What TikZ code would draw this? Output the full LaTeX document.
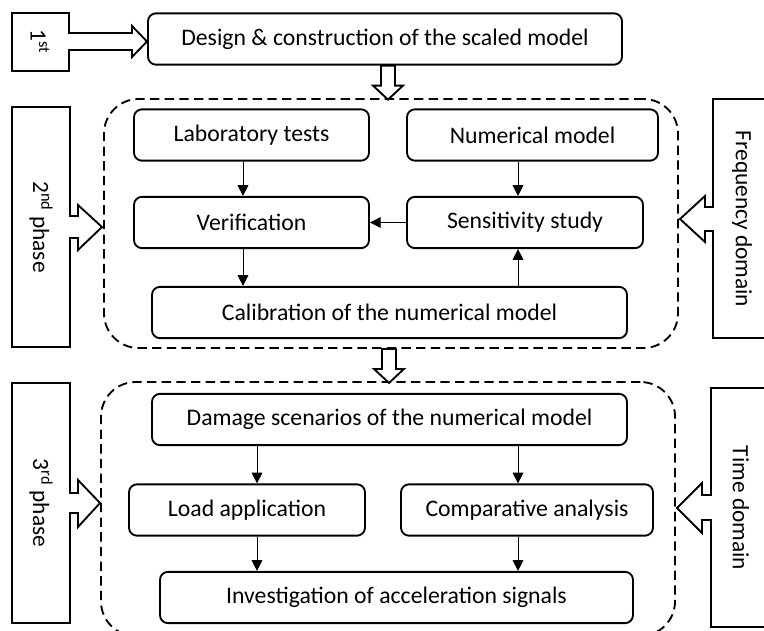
\documentclass[tikz,border=0pt]{standalone}
\usepackage{fontspec}
\setmainfont{Carlito}
\usetikzlibrary{arrows.meta}

\begin{document}
\begin{tikzpicture}[
  x=0.75pt, y=-0.75pt,
  procbox/.style={rectangle, draw, line width=1.4pt, rounded corners=6pt, minimum height=38.5pt, inner sep=0pt, align=center, font=\fontsize{17.8}{21}\selectfont},
  groupbox/.style={rectangle, draw, line width=1.4pt, dash pattern=on 7pt off 4pt, rounded corners=26pt, inner sep=0pt},
  phasebox/.style={draw, line width=1.4pt, fill=white},
  hollowarrow/.style={draw, line width=1.4pt, fill=white},
  flow/.style={-{Triangle[length=8pt,width=8pt]}, line width=0.75pt},
  sidetext/.style={rotate=-90, font=\fontsize{17.5}{21}\selectfont}
]
\useasboundingbox (0,0) rectangle (764,631);
\clip (0,0) rectangle (764,631);

% groups
\node[groupbox, minimum width=430.5pt, minimum height=186.75pt] (grp1) at (391,223.5) {};
\node[groupbox, minimum width=430.5pt, minimum height=190.5pt] (grp2) at (388,509) {};

% 1st phase
\node[procbox, minimum width=355.5pt] (design) at (385,39) {Design \& construction of the scaled model};
\draw[hollowarrow] ([xshift=-3pt]design.south) -- ++(0,20) -- ++(-8,0) -- ++(15,14) -- ++(15,-14) -- ++(-8,0) -- ++(0,-20) -- cycle;

% 2nd phase
\node[procbox, minimum width=176.25pt] (lab) at (251.5,135) {Laboratory tests};
\node[procbox, minimum width=188.25pt] (num) at (532.5,135) {Numerical model};
\node[procbox, minimum width=176.25pt] (verif) at (251.5,222.5) {Verification};
\node[procbox, minimum width=177pt] (sens) at (525,222.5) {Sensitivity study};
\node[procbox, minimum width=356.25pt] (calib) at (389.5,312.5) {Calibration of the numerical model};
\draw[hollowarrow] ([xshift=-6.75pt]grp1.south) -- ++(0,20) -- ++(-8,0) -- ++(15,14) -- ++(15,-14) -- ++(-8,0) -- ++(0,-20) -- cycle;

% 3rd phase
\node[procbox, minimum width=356.25pt] (damage) at (389.5,419.5) {Damage scenarios of the numerical model};
\node[procbox, minimum width=177pt] (load) at (247,510) {Load application};
\node[procbox, minimum width=189pt] (comp) at (527,510) {Comparative analysis};
\node[procbox, minimum width=354.75pt] (invest) at (396.5,597.5) {Investigation of acceleration signals};

% columns of the arrows
\coordinate (colA) at (243,0);
\coordinate (colB) at (518,0);
\coordinate (colC) at (257,0);

\draw[flow] (lab.south -| colA) -- (verif.north -| colA);
\draw[flow] (num.south -| colB) -- (sens.north -| colB);
\draw[flow] (sens.west) -- (verif.east);
\draw[flow] (verif.south -| colA) -- (calib.north -| colA);
\draw[flow] (calib.north -| colB) -- (sens.south -| colB);
\draw[flow] (damage.south -| colC) -- (load.north -| colC);
\draw[flow] (damage.south -| colB) -- (comp.north -| colB);
\draw[flow] (load.south -| colC) -- (invest.north -| colC);
\draw[flow] (comp.south -| colB) -- (invest.north -| colB);

% side labels
\draw[phasebox] (12,13) -- (69,13) -- (69,33) -- (132,33) -- (132,26) -- (147,41.5) -- (132,57) -- (132,50) -- (69,50) -- (69,71) -- (12,71) -- cycle;
\node[sidetext] (ph1) at (40,42) {1\textsuperscript{st}};
\draw[phasebox] (12,107) -- (70,107) -- (70,216) -- (78,216) -- (78,205) -- (102,227) -- (78,250) -- (78,238) -- (70,238) -- (70,347) -- (12,347) -- cycle;
\node[sidetext] (ph2) at (41,227) {2\textsuperscript{nd} phase};
\draw[phasebox] (12,383) -- (70,383) -- (70,493) -- (78,493) -- (78,480) -- (100,503) -- (78,527) -- (78,513) -- (70,513) -- (70,623) -- (12,623) -- cycle;
\node[sidetext] (ph3) at (41,503) {3\textsuperscript{rd} phase};
\draw[phasebox] (771,99) -- (713,99) -- (713,207) -- (705,207) -- (705,196) -- (680,219) -- (705,242) -- (705,231) -- (713,231) -- (713,338) -- (771,338) -- cycle;
\node[sidetext] (fdom) at (742,219) {Frequency domain};
\draw[phasebox] (771,388) -- (711,388) -- (711,495) -- (702,495) -- (702,483) -- (677,508) -- (702,533) -- (702,520) -- (711,520) -- (711,627) -- (771,627) -- cycle;
\node[sidetext] (tdom) at (741,508) {Time domain};
\end{tikzpicture}
\end{document}
